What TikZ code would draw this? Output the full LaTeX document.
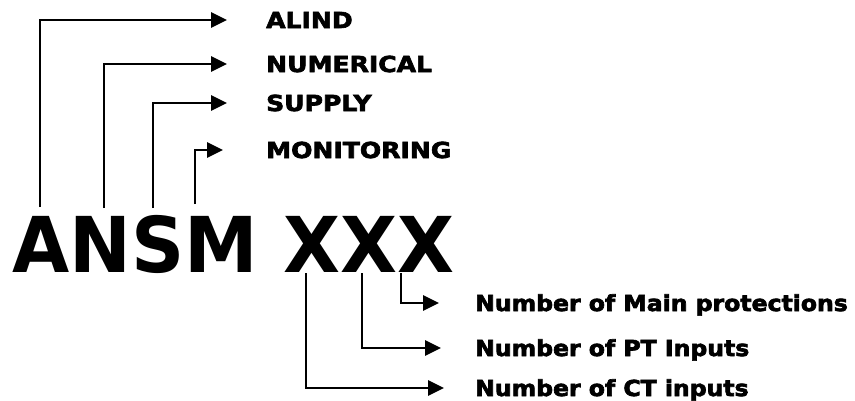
\documentclass[tikz,border=0pt]{standalone}
\usepackage{fontspec}
\usetikzlibrary{arrows.meta}
\newfontfamily\capfont{DejaVu Sans Bold}[FakeStretch=1.14,FakeBold=3]
\newfontfamily\mixfont{DejaVu Sans Bold}[FakeStretch=1.07,FakeBold=3]
\newfontfamily\bigfont{DejaVu Sans Bold}[FakeStretch=0.96]
\begin{document}
\begin{tikzpicture}[x=1pt,y=-1pt,
  conn/.style={line width=2.8pt,-{Triangle[length=16pt,width=15pt]}},
  lbl/.style={anchor=west,inner sep=0pt,text height=16pt,text depth=0pt},
  caplbl/.style={lbl,font=\capfont\fontsize{22}{26}\selectfont},
  mixlbl/.style={lbl,font=\mixfont\fontsize{22}{26}\selectfont},
  big/.style={anchor=base west,inner sep=0pt,font=\bigfont\fontsize{77}{80}\selectfont}]
\useasboundingbox (0,0) rectangle (855,400);
\node[big] (code) at (12,272) {ANSM XXX};
% top labels
\node[caplbl] (alind) at (266,20) {ALIND};
\node[caplbl] (num) at (266,64) {NUMERICAL};
\node[caplbl] (sup) at (266,103) {SUPPLY};
\node[caplbl] (mon) at (266,150) {MONITORING};
% bottom labels
\node[mixlbl] (mainp) at (475,303) {Number of Main protections};
\node[mixlbl] (pt) at (475,348) {Number of PT Inputs};
\node[mixlbl] (ct) at (475,388) {Number of CT inputs};
% start points
\coordinate (sA) at (40,207);
\coordinate (sN) at (104,208);
\coordinate (sS) at (153,208);
\coordinate (sM) at (195,204);
\coordinate (sX1) at (306,273);
\coordinate (sX2) at (362,273);
\coordinate (sX3) at (401,273);
\draw[conn,shorten >=39pt] (sA) |- (alind);
\draw[conn,shorten >=39pt] (sN) |- (num);
\draw[conn,shorten >=39pt] (sS) |- (sup);
\draw[conn,shorten >=43pt] (sM) |- (mon);
\draw[conn,shorten >=36pt] (sX3) |- (mainp);
\draw[conn,shorten >=34pt] (sX2) |- (pt);
\draw[conn,shorten >=31pt] (sX1) |- (ct);
\end{tikzpicture}
\end{document}
